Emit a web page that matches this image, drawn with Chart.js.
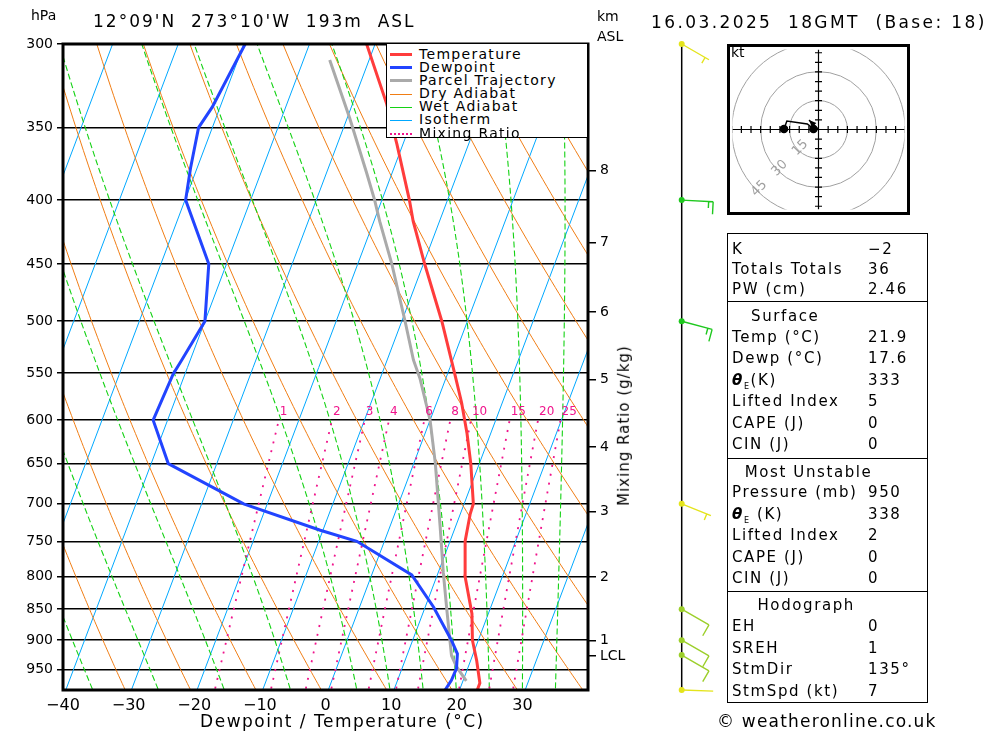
<!DOCTYPE html>
<html>
<head>
<meta charset="utf-8">
<script src="https://cdn.jsdelivr.net/npm/chart.js@4.4.1/dist/chart.umd.min.js"></script>
<style>
  body { margin: 0; background: #fff; font-family: 'DejaVu Sans', sans-serif; color: #000; }
  #wrap { position: relative; width: 1000px; height: 733px; overflow: hidden; }
  #skewt { position: absolute; left: 0; top: 0; }
  #hodo { position: absolute; left: 727px; top: 44px; }
  .lbl { position: absolute; white-space: pre; line-height: 1; }
  #legend { position: absolute; left: 386px; top: 43px; width: 200px; height: 93px; background: #fff; border: 1.5px solid #000; }
  #legend .row { position: absolute; left: 0; height: 13px; width: 200px; }
  #legend .swatch { position: absolute; left: 3px; width: 22px; }
  #legend .txt { position: absolute; left: 32px; top: -1px; font-size: 14px; letter-spacing: 1.3px; line-height: 14px; }
  #table { position: absolute; left: 727px; top: 233px; width: 199px; height: 468px; border: 1.5px solid #000; }
  .sep { position: absolute; left: 0; width: 199px; border-top: 1.5px solid #000; }
  .cell { position: absolute; white-space: pre; font-size: 15px; letter-spacing: 1.6px; line-height: 18px; }
</style>
</head>
<body>
<div id="wrap">
  <canvas id="skewt" width="1000" height="733"></canvas>
  <canvas id="hodo" width="183" height="171"></canvas>
  <div id="legend"></div>
  <div id="table"></div>
</div>
<script>
// Sounding data (pressure in hPa, temperature in degC)
const pressureTicks = [300, 350, 400, 450, 500, 550, 600, 650, 700, 750, 800, 850, 900, 950];
const kmPressure = [378.7, 432.3, 491.7, 556.9, 630.4, 710, 801.2, 900.2, 926.5];
const kmLabels = ['8', '7', '6', '5', '4', '3', '2', '1', 'LCL'];

const tempPressure = [986.5, 974, 934, 900, 857, 800, 750, 713, 700, 650, 615, 581, 551, 500, 450, 416, 400, 361, 335, 300];
const tempValues = [22.7, 22.7, 20.9, 19.1, 17.5, 14.3, 12.3, 11.5, 11.4, 8.7, 6.4, 3.8, 1.1, -3.9, -9.8, -14.0, -15.8, -20.9, -24.8, -31.3];

const dewPressure = [986.5, 969, 948, 923, 900, 847, 798, 750, 735, 700, 650, 600, 551, 537, 500, 450, 400, 377, 350, 337, 300];
const dewValues = [17.8, 18.2, 18.3, 17.6, 15.9, 11.3, 6.1, -4.2, -10.4, -23.6, -37.4, -42.2, -41.8, -41.3, -40.0, -42.7, -49.9, -51.0, -52.1, -51.2, -49.8];

const parcelPressure = [970, 945, 926, 852, 795, 729, 650, 600, 556, 537, 500, 450, 416, 400, 381, 344, 309];
const parcelValues = [20.5, 18.2, 16.8, 13.5, 10.8, 7.6, 3.3, 0.0, -3.9, -6.0, -9.5, -14.8, -19.1, -21.1, -23.8, -29.6, -36.0];

// background lines of the diagram
const isothermTemps = [-110, -100, -90, -80, -70, -60, -50, -40, -30, -20, -10, 0, 10, 20, 30, 40];
const dryAdiabatTemps = [-40, -30, -20, -10, 0, 10, 20, 30, 40, 50, 60, 70, 80, 90, 100, 110, 120];
const wetAdiabatTemps = [-35, -25, -15, -5, 5, 10, 15, 20, 25, 30, 35];
const mixingRatios = [1, 2, 3, 4, 6, 8, 10, 15, 20, 25];

// winds on the right column
const windPressure = [300, 400, 500, 700, 850, 900, 925, 986.5];
const windDir = [120, 93, 105, 112, 120, 120, 120, 92];
const windSpeed = [5, 15, 15, 5, 10, 10, 10, 2];
const windColors = ['#e4e41c', '#1ec81e', '#1ec81e', '#e4e41c', '#9ccf2a', '#9ccf2a', '#9ccf2a', '#e4e41c'];

// hodograph (kt)
const hodoU = [-17.9, -16.4, -5.8, -2.6];
const hodoV = [0.3, 4.4, 2.9, 0.3];
const hodoRings = [15, 30, 45];
const stormDir = 135;
const stormSpeed = 7;

const P_BOTTOM = 986.5;
const P_TOP = 300;
const SKEW = 31.2;

Chart.defaults.font.family = "'DejaVu Sans', sans-serif";
Chart.defaults.color = '#000';

function skew(t, p) { return t + SKEW * Math.log(1000 / p); }
function profile(ps, ts) { return ps.map((p, i) => ({ x: skew(ts[i], p), y: p })); }

const levels = [];
for (let p = 1000; p >= 300; p -= 5) levels.push(p);

function satMix(t, p) {
  const es = 6.112 * Math.exp(17.67 * t / (t + 243.5));
  return 0.622 * es / (p - es);
}
function moistLapse(t, p) {
  const T = t + 273.15, rs = satMix(t, p);
  const num = (287.04 * T + 2.501e6 * rs) / p;
  const den = 1005.7 + (2.501e6 * 2.501e6 * rs * 0.622) / (287.04 * T * T);
  return num / den;
}
function moistCurve(tw) {
  let t = tw;
  const pts = [];
  for (let i = 0; i < levels.length; i++) {
    const p = levels[i];
    pts.push({ x: skew(t, p), y: p });
    if (i + 1 < levels.length) {
      const dp = levels[i + 1] - p;
      const k1 = moistLapse(t, p);
      const k2 = moistLapse(t + k1 * dp / 2, p + dp / 2);
      const k3 = moistLapse(t + k2 * dp / 2, p + dp / 2);
      const k4 = moistLapse(t + k3 * dp, p + dp);
      t += dp * (k1 + 2 * k2 + 2 * k3 + k4) / 6;
    }
  }
  return pts;
}
function dryCurve(theta) {
  return levels.map(p => ({ x: skew((theta + 273.15) * Math.pow(p / 1000, 0.2857) - 273.15, p), y: p }));
}
function mixCurve(w) {
  const pts = [];
  for (let p = 1000; p >= 600; p -= 10) {
    const l = Math.log(w * p / (622 + w) / 6.112);
    pts.push({ x: skew(243.5 * l / (17.67 - l), p), y: p });
  }
  return pts;
}

function lineSet(data, color, width, dash, order) {
  return { data, borderColor: color, borderWidth: width, borderDash: dash || [], pointRadius: 0,
    showLine: true, fill: false, tension: 0, order };
}

const datasets = [
  lineSet(profile(tempPressure, tempValues), '#ff3c3c', 3, null, 0),
  lineSet(profile(dewPressure, dewValues), '#2244ff', 3, null, 0),
  lineSet(profile(parcelPressure, parcelValues), '#aaaaaa', 3, null, 1)
];
isothermTemps.forEach(t => datasets.push(lineSet([{ x: skew(t, 1000), y: 1000 }, { x: skew(t, 300), y: 300 }], '#00a8ff', 1, null, 5)));
dryAdiabatTemps.forEach(t => datasets.push(lineSet(dryCurve(t), '#f07d14', 1, null, 4)));
wetAdiabatTemps.forEach(t => datasets.push(lineSet(moistCurve(t), '#14d214', 1.1, [6, 3], 3)));
mixingRatios.forEach(w => datasets.push(lineSet(mixCurve(w), '#f0148c', 1.8, [2, 7], 2)));

// plot frame, mixing ratio labels and wind barbs
const framePlugin = {
  id: 'frame',
  afterDatasetsDraw(chart) {
    const { ctx, chartArea: a, scales } = chart;
    ctx.save();
    ctx.fillStyle = '#f0148c';
    ctx.font = "12px 'DejaVu Sans'";
    ctx.textBaseline = 'middle';
    mixingRatios.forEach(w => {
      const l = Math.log(w * 600 / (622 + w) / 6.112);
      const x = scales.x.getPixelForValue(skew(243.5 * l / (17.67 - l), 600));
      ctx.fillText(String(w), x + 1, scales.y.getPixelForValue(600) - 8);
    });
    ctx.strokeStyle = '#000';
    ctx.lineWidth = 3;
    ctx.strokeRect(a.left, a.top, a.right - a.left, a.bottom - a.top);
    ctx.restore();
  },
  afterDraw(chart) {
    const ctx = chart.ctx, ys = chart.scales.y;
    const x0 = 681.7;
    ctx.save();
    ctx.strokeStyle = '#000';
    ctx.lineWidth = 1.5;
    ctx.beginPath();
    ctx.moveTo(x0, ys.getPixelForValue(P_TOP));
    ctx.lineTo(x0, ys.getPixelForValue(P_BOTTOM));
    ctx.stroke();
    windPressure.forEach((p, i) => {
      const y0 = ys.getPixelForValue(p);
      const d = windDir[i] * Math.PI / 180;
      const ux = Math.sin(d), uy = -Math.cos(d);
      const px = -uy, py = ux;
      const len = 31.5;
      const tx = x0 + ux * len, ty = y0 + uy * len;
      ctx.strokeStyle = windColors[i];
      ctx.fillStyle = windColors[i];
      ctx.lineWidth = 1.4;
      ctx.beginPath();
      ctx.moveTo(x0, y0);
      ctx.lineTo(tx, ty);
      let s = windSpeed[i], k = 0;
      while (s >= 10) {
        const bx = tx - ux * k * 4.5, by = ty - uy * k * 4.5;
        ctx.moveTo(bx, by);
        ctx.lineTo(bx + px * 12.5, by + py * 12.5);
        s -= 10; k++;
      }
      if (s >= 5) {
        if (k === 0) k = 1;
        const bx = tx - ux * k * 4.5, by = ty - uy * k * 4.5;
        ctx.moveTo(bx, by);
        ctx.lineTo(bx + px * 6.5, by + py * 6.5);
      }
      ctx.stroke();
      ctx.beginPath();
      ctx.arc(x0, y0, 3, 0, Math.PI * 2);
      ctx.fill();
    });
    ctx.restore();
  }
};

new Chart(document.getElementById('skewt'), {
  type: 'scatter',
  data: { datasets },
  options: {
    responsive: false,
    animation: false,
    devicePixelRatio: 1,
    layout: { padding: { left: 0, top: 44, right: 372, bottom: 0 } },
    plugins: { legend: { display: false }, tooltip: { enabled: false } },
    scales: {
      x: {
        type: 'linear', position: 'bottom', min: -40, max: 40,
        grid: { display: false, drawTicks: false },
        border: { display: false },
        ticks: {
          stepSize: 10, padding: 6, font: { size: 16 },
          callback: v => v === 40 ? '' : (v < 0 ? '\u2212' + (-v) : String(v))
        },
        afterFit: s => { s.height = 43; }
      },
      y: {
        type: 'logarithmic', position: 'left', reverse: true, min: P_TOP, max: P_BOTTOM,
        grid: { color: '#000', lineWidth: 1.5, tickLength: 6 },
        border: { display: false },
        ticks: { autoSkip: false, padding: 4, font: { size: 14 }, callback: v => String(v) },
        afterBuildTicks: s => { s.ticks = pressureTicks.map(v => ({ value: v })); },
        afterFit: s => { s.width = 63; }
      },
      km: {
        type: 'logarithmic', position: 'right', reverse: true, min: P_TOP, max: P_BOTTOM,
        grid: { drawOnChartArea: false, color: '#000', lineWidth: 1.5, tickLength: 8 },
        border: { display: false },
        ticks: { autoSkip: false, padding: 4, font: { size: 14 }, callback: (v, i) => kmLabels[i] },
        afterBuildTicks: s => { s.ticks = kmPressure.map(v => ({ value: v })); },
        afterFit: s => { s.width = 40; }
      }
    }
  },
  plugins: [framePlugin]
});

// hodograph
const stormU = -stormSpeed * Math.sin(stormDir * Math.PI / 180);
const stormV = -stormSpeed * Math.cos(stormDir * Math.PI / 180);

const hodoPlugin = {
  id: 'hodoGrid',
  beforeDatasetsDraw(chart) {
    const { ctx, scales: { x, y }, chartArea: a } = chart;
    const cx = x.getPixelForValue(0), cy = y.getPixelForValue(0);
    ctx.save();
    ctx.beginPath();
    ctx.rect(a.left, a.top, a.right - a.left, a.bottom - a.top);
    ctx.clip();
    ctx.strokeStyle = '#a0a0a0';
    ctx.lineWidth = 1;
    hodoRings.forEach(r => {
      ctx.beginPath();
      ctx.arc(cx, cy, x.getPixelForValue(r) - cx, 0, Math.PI * 2);
      ctx.stroke();
    });
    ctx.fillStyle = '#a0a0a0';
    ctx.font = "13px 'DejaVu Sans'";
    ctx.textAlign = 'center';
    ctx.textBaseline = 'middle';
    hodoRings.forEach(r => {
      const rr = r - 1.5, ang = Math.PI * 0.75;
      ctx.save();
      ctx.translate(x.getPixelForValue(rr * Math.cos(ang)), y.getPixelForValue(-rr * Math.sin(ang)));
      ctx.rotate(-Math.PI / 4);
      ctx.fillText(String(r), 0, 0);
      ctx.restore();
    });
    ctx.strokeStyle = '#000';
    ctx.lineWidth = 1.2;
    ctx.beginPath();
    ctx.moveTo(a.left, cy); ctx.lineTo(a.right, cy);
    ctx.moveTo(cx, a.top); ctx.lineTo(cx, a.bottom);
    for (let k = -45; k <= 45; k += 5) {
      if (k === 0) continue;
      const tx = x.getPixelForValue(k), ty = y.getPixelForValue(k);
      ctx.moveTo(tx, cy - 3.5); ctx.lineTo(tx, cy + 3.5);
      ctx.moveTo(cx - 3.5, ty); ctx.lineTo(cx + 3.5, ty);
    }
    ctx.stroke();
    ctx.restore();
  },
  afterDatasetsDraw(chart) {
    const { ctx, scales: { x, y } } = chart;
    const x1 = x.getPixelForValue(0), y1 = y.getPixelForValue(0);
    const x2 = x.getPixelForValue(stormU), y2 = y.getPixelForValue(stormV);
    const ang = Math.atan2(y2 - y1, x2 - x1);
    ctx.save();
    ctx.fillStyle = '#000';
    ctx.beginPath();
    ctx.moveTo(x2, y2);
    ctx.lineTo(x2 - 8 * Math.cos(ang - 0.4), y2 - 8 * Math.sin(ang - 0.4));
    ctx.lineTo(x2 - 8 * Math.cos(ang + 0.4), y2 - 8 * Math.sin(ang + 0.4));
    ctx.closePath();
    ctx.fill();
    ctx.strokeStyle = '#000';
    ctx.lineWidth = 3;
    ctx.strokeRect(1.5, 1.5, chart.width - 3, chart.height - 3);
    ctx.restore();
  }
};

new Chart(document.getElementById('hodo'), {
  type: 'scatter',
  data: {
    datasets: [
      { data: hodoU.map((u, i) => ({ x: u, y: hodoV[i] })), showLine: true, borderColor: '#000', borderWidth: 1.5,
        pointRadius: hodoU.map((u, i) => (i === 0 || i === hodoU.length - 1) ? 3.5 : 0),
        pointBackgroundColor: '#000', pointBorderColor: '#000', tension: 0 },
      { data: [{ x: 0, y: 0 }, { x: stormU, y: stormV }], showLine: true, borderColor: '#000', borderWidth: 1.2, pointRadius: 0 }
    ]
  },
  options: {
    responsive: false, animation: false, devicePixelRatio: 1,
    layout: { padding: 0 },
    plugins: { legend: { display: false }, tooltip: { enabled: false } },
    scales: {
      x: { display: false, min: -44.6, max: 44.6 },
      y: { display: false, min: -41.7, max: 41.7 }
    }
  },
  plugins: [hodoPlugin]
});

// texts
const wrap = document.getElementById('wrap');
function label(html, left, yc, size, style) {
  const d = document.createElement('div');
  d.className = 'lbl';
  d.innerHTML = html;
  d.style.left = left + 'px';
  d.style.top = (yc - 0.48 * size) + 'px';
  d.style.fontSize = size + 'px';
  if (style) d.style.cssText += style;
  wrap.appendChild(d);
  return d;
}
label('hPa', 31, 15, 14);
label("12°09'N  273°10'W  193m  ASL", 93, 21.5, 17, 'letter-spacing:2px;');
label('km', 597, 15.5, 14);
label('ASL', 597, 35.3, 14);
label('16.03.2025  18GMT  (Base: 18)', 651, 22, 17, 'letter-spacing:2.4px;');
const xt = label('Dewpoint / Temperature (°C)', 0, 721, 17, 'letter-spacing:1.5px;');
xt.style.left = (342.6 - xt.offsetWidth / 2) + 'px';
const mr = label('Mixing Ratio (g/kg)', 0, 0, 15, 'letter-spacing:1px;');
mr.style.left = (624.5 - mr.offsetWidth / 2) + 'px';
mr.style.top = (425 - mr.offsetHeight / 2) + 'px';
mr.style.transform = 'rotate(-90deg)';
label('© weatheronline.co.uk', 717, 721, 17, 'letter-spacing:1.2px;');
label('kt', 731, 52, 14);

// legend
const legendItems = [
  ['Temperature', '#ff3c3c', 3, false],
  ['Dewpoint', '#2244ff', 3, false],
  ['Parcel Trajectory', '#aaaaaa', 3, false],
  ['Dry Adiabat', '#f07d14', 1, false],
  ['Wet Adiabat', '#14d214', 1, false],
  ['Isotherm', '#00a8ff', 1, false],
  ['Mixing Ratio', '#f0148c', 2, true]
];
const legend = document.getElementById('legend');
legendItems.forEach((it, i) => {
  const row = document.createElement('div');
  row.className = 'row';
  row.style.top = (3.5 + i * 13.17) + 'px';
  const sw = it[3]
    ? `border-top:2px dotted ${it[1]};top:6px;`
    : `background:${it[1]};height:${it[2]}px;top:${7 - it[2] / 2}px;`;
  row.innerHTML = `<div class="swatch" style="${sw}"></div><div class="txt">${it[0]}</div>`;
  legend.appendChild(row);
});

// index table
const theta = '<b><i>θ</i></b><sub style="font-size:8px">E</sub>';
const tableRows = [
  [249, 'K', '\u22122'], [269.3, 'Totals Totals', '36'], [289.3, 'PW (cm)', '2.46'],
  [315.7, '   Surface', ''], [337, 'Temp (°C)', '21.9'], [358.3, 'Dewp (°C)', '17.6'], [380, theta + '(K)', '333'],
  [401.3, 'Lifted Index', '5'], [422.7, 'CAPE (J)', '0'], [444.3, 'CIN (J)', '0'],
  [471.7, '  Most Unstable', ''], [492.3, 'Pressure (mb)', '950'], [513.7, theta + ' (K)', '338'],
  [535, 'Lifted Index', '2'], [556.7, 'CAPE (J)', '0'], [578.3, 'CIN (J)', '0'],
  [605, '    Hodograph', ''], [626, 'EH', '0'], [647.7, 'SREH', '1'], [669, 'StmDir', '135°'], [690.7, 'StmSpd (kt)', '7']
];
const separators = [301, 458.3, 591];
const table = document.getElementById('table');
tableRows.forEach(r => {
  const a = document.createElement('div');
  a.className = 'cell';
  a.style.left = '4px';
  a.style.top = (r[0] - 233 - 10.2) + 'px';
  a.innerHTML = r[1];
  table.appendChild(a);
  if (r[2]) {
    const b = document.createElement('div');
    b.className = 'cell';
    b.style.left = '140px';
    b.style.top = (r[0] - 233 - 10.2) + 'px';
    b.textContent = r[2];
    table.appendChild(b);
  }
});
separators.forEach(s => {
  const d = document.createElement('div');
  d.className = 'sep';
  d.style.top = (s - 234) + 'px';
  table.appendChild(d);
});
</script>
</body>
</html>
